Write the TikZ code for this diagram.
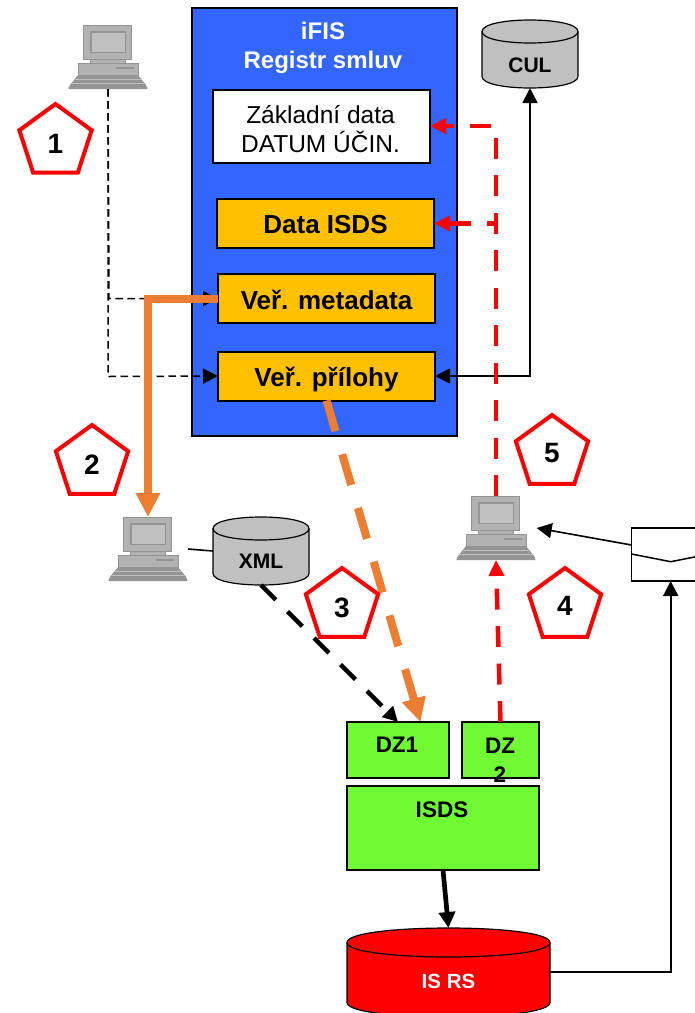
\documentclass[tikz,border=0pt]{standalone}
\usepackage{fontspec}
\setmainfont{Liberation Sans}
\usetikzlibrary{shapes.geometric,arrows.meta,calc}
\definecolor{ablue}{RGB}{51,102,255}
\definecolor{aorange}{RGB}{255,192,0}
\definecolor{agreen}{RGB}{112,250,52}
\definecolor{aline}{RGB}{237,125,49}
\definecolor{pclight}{RGB}{192,192,192}
\definecolor{pcmid}{RGB}{178,178,178}
\definecolor{pcdark}{RGB}{148,148,148}
\newcommand{\lowered}[2]{\raisebox{-#1}[\height][\depth]{#2}}
\tikzset{
  x=1pt,y=-1pt,
  every node/.style={outer sep=0pt},
  box/.style={draw=black,line width=2pt,inner sep=0pt,align=center,anchor=north west},
  databox/.style={box,fill=aorange,minimum width=217pt,minimum height=49pt,font=\fontsize{26}{29}\selectfont\bfseries},
  greenbox/.style={draw=black,line width=1.8pt,fill=agreen,inner sep=0pt,anchor=north west},
  greentext/.style={inner sep=0pt,align=center,font=\fontsize{22.5}{29}\selectfont\bfseries},
  pent/.style={regular polygon,regular polygon sides=5,draw=red,line width=4pt,fill=white,minimum size=76pt,inner sep=0pt,font=\fontsize{28}{30}\selectfont\bfseries},
  reddash/.style={draw=red,line width=4.5pt,dash pattern=on 21pt off 16.5pt,-{Triangle[width=15pt,length=16pt]}},
  blackdash/.style={draw=black,line width=4.4pt,dash pattern=on 21pt off 16.5pt,-{Triangle[width=15pt,length=15pt]}},
  orangedash/.style={draw=aline,line width=8pt,dash pattern=on 32pt off 24pt,-{Triangle[width=23pt,length=24pt]}},
  fine/.style={draw=black,line width=1.5pt,dash pattern=on 7.5pt off 4.5pt,-{Triangle[width=15pt,length=15pt]}},
  thinarrow/.style={draw=black,line width=1.8pt,-{Triangle[width=15pt,length=15pt]}},
  pcnode/.style={inner sep=0pt,minimum width=80pt,minimum height=64pt},
  dblabel/.style={font=\fontsize{21}{24}\selectfont\bfseries,inner sep=0pt},
}
\newcommand{\pcicon}[3]{%
  \node[pcnode] (#1) at (#2,#3) {};
  \begin{scope}[shift={(#2,#3)}]
    \fill[pcdark] (-25,-32) rectangle (24,2.5);
    \fill[pcmid] (-24,-31) rectangle (23,1.5);
    \fill[pcdark] (-18,-26) rectangle (18,-4);
    \fill[pclight] (-16.5,-24.5) rectangle (16.5,-5.5);
    \fill[pcmid] (-17.5,2.5) rectangle (17.5,6);
    \draw[pcdark,line width=.7pt] (-17.5,2.5) rectangle (17.5,6);
    \fill[pcmid] (-30,6) rectangle (30,18);
    \draw[pcdark,line width=.7pt] (-30,6) rectangle (30,18);
    \fill[pcdark] (8,9.5) rectangle (26,12);
    \fill[pcdark] (-30,18) -- (30,18) -- (38,28) [rounded corners=1pt] -- (40,32) -- (-40,32) -- (-38,28) -- cycle;
    \draw[pclight,line width=.6pt] (-33,22.5) -- (33,22.5) (-36,26.5) -- (36,26.5);
  \end{scope}
}
% #1 name, #2 cx, #3 top, #4 half width, #5 ry, #6 bottom, #7 fill, #8 label style, #9 label
\newcommand{\dbcyl}[9]{%
  \draw[black,line width=1.2pt,fill=#7]
     ({#2-#4},{#3+#5}) .. controls ({#2-#4},{#3+#5-1.333*#5}) and ({#2+#4},{#3+#5-1.333*#5}) .. ({#2+#4},{#3+#5})
     -- ({#2+#4},{#6-#5}) .. controls ({#2+#4},{#6-#5+1.333*#5}) and ({#2-#4},{#6-#5+1.333*#5}) .. ({#2-#4},{#6-#5}) -- cycle;
  \draw[black,line width=1.2pt]
     ({#2-#4},{#3+#5}) .. controls ({#2-#4},{#3+#5+1.333*#5}) and ({#2+#4},{#3+#5+1.333*#5}) .. ({#2+#4},{#3+#5});
  \node[inner sep=0pt,minimum width={2*#4*1pt},minimum height={(#6-#3)*1pt}] (#1) at (#2,{(#3+#6)/2}) {};
  \node[dblabel,#8] (#1l) at (#2,{(#3+#6)/2+#5*.9}) {#9};
}
\begin{document}
\begin{tikzpicture}
\useasboundingbox (0,0) rectangle (695,1013);
\clip (0,0) rectangle (695,1013);
\fill[white] (0,0) rectangle (695,1013);

% main blue panel
\node[draw=black,line width=2pt,fill=ablue,minimum width=265.5pt,minimum height=428pt,inner sep=0pt,anchor=north west] (ifis) at (191.5,8) {};
\node[text=white,inner sep=0pt,font=\fontsize{24}{29}\selectfont\bfseries,align=center] (ifistitle) at (323,48) {iFIS\\Registr smluv};

\node[box,fill=white,minimum width=217pt,minimum height=73pt] (zaklad) at (213,90) {};
\node[inner sep=0pt,align=center,font=\fontsize{24.5}{29}\selectfont] (zakladtext) at (320.5,129) {Základní data\\DATUM ÚČIN.};
\node[databox] (isdsdata) at (217,199) {\lowered{1.5pt}{Data ISDS}};
\node[databox] (metadata) at (218,274) {\lowered{1.5pt}{Veř. metadata}};
\node[databox] (prilohy) at (218,351.5) {\lowered{3pt}{Veř. přílohy}};

% computers
\pcicon{pcone}{108}{57}
\pcicon{pctwo}{148}{549}
\pcicon{pcthree}{496}{528}

% cylinders
\dbcyl{cul}{530}{20}{48}{11.5}{88}{pclight}{}{\lowered{1pt}{CUL}}
\dbcyl{xml}{261}{517}{48}{11.5}{585}{pclight}{}{XML}
\dbcyl{isrs}{448.5}{928}{101.5}{14.5}{1017}{red}{text=white,font=\fontsize{20.5}{24}\selectfont\bfseries,yshift=4.5pt}{IS RS}

% green boxes
\node[greenbox,minimum width=102pt,minimum height=56pt] (dzone) at (347,722) {};
\node[greenbox,minimum width=77pt,minimum height=56pt] (dztwo) at (462,722) {};
\node[greenbox,minimum width=192pt,minimum height=84pt] (isds) at (347,786) {};
\node[greentext] (dzonel) at (397,745) {DZ1};
\node[greentext] (dztwol) at (500,760) {DZ\\2};
\node[greentext] (isdsl) at (442,810) {ISDS};

% envelope
\node[draw=black,line width=1.8pt,fill=white,minimum width=80pt,minimum height=53pt,inner sep=0pt,anchor=north west] (env) at (631.5,528) {};
\coordinate (envl) at (631.5,554);
\coordinate (envm) at (670.7,561.7);
\coordinate (envr) at (696,556.7);
\draw[black,line width=1.5pt] (envl) -- (envm) -- (envr);

% connector helper points
\coordinate (redcorner) at (496,126);
\coordinate (envbottom) at (670.7,581);
\coordinate (envcorner) at (670.7,972);
\coordinate (envout) at (631.5,545);
\coordinate (pcthreeright) at (536.7,528);
\coordinate (mainout) at (108,376.5);
\coordinate (mainmid) at (109,298.5);
\coordinate (dzoneorange) at (420.5,722);

% black dashed from top computer
\draw[fine] (pcone.south) -- (mainmid) -- (metadata.west);
\draw[fine] (pcone.south) -- (mainout) -- (prilohy.west);

% orange solid
\draw[draw=aline,line width=8pt,-{Triangle[width=23pt,length=24pt]}] (metadata.west) -- (metadata.west -| pctwo.north) -- (pctwo.north);

% CUL
\draw[thinarrow,{Triangle[width=15pt,length=15pt]}-{Triangle[width=15pt,length=15pt]}] (prilohy.east) -- (prilohy.east -| cul.south) -- (cul.south);

% red dashed
\draw[reddash] (pcthree.north) -- (redcorner) -- (zaklad.east |- redcorner);
\draw[reddash,dash phase=12pt] (isdsdata.east -| redcorner) -- (isdsdata.east);
\draw[reddash] (dztwo.north) -- (pcthree.south);

% orange dashed
\draw[orangedash] (prilohy.south) -- (dzoneorange);

% black dashed XML to DZ1
\draw[blackdash] (xml.south) -- (dzone.north);

% thin connector pc-xml
\draw[black,line width=1.6pt] (pctwo.east) -- (xml.west);

% ISDS to IS RS
\draw[black,line width=4.7pt,-{Triangle[width=16pt,length=16pt]}] (isds.south) -- (isrs.north);

% IS RS to envelope
\draw[thinarrow] (isrs.east |- envcorner) -- (envcorner) -- (envbottom);
% envelope to computer
\draw[thinarrow,line width=1.6pt] (envout) -- (pcthreeright);

% pentagons
\node[pent] (pone) at (55.5,142) {\lowered{1.5pt}{1}};
\node[pent] (ptwo) at (92,463) {\lowered{2pt}{2}};
\node[pent] (pthree) at (342,606) {\lowered{1.5pt}{3}};
\node[pent] (pfour) at (565,606) {4};
\node[pent] (pfive) at (552,453) {5};
\end{tikzpicture}
\end{document}
